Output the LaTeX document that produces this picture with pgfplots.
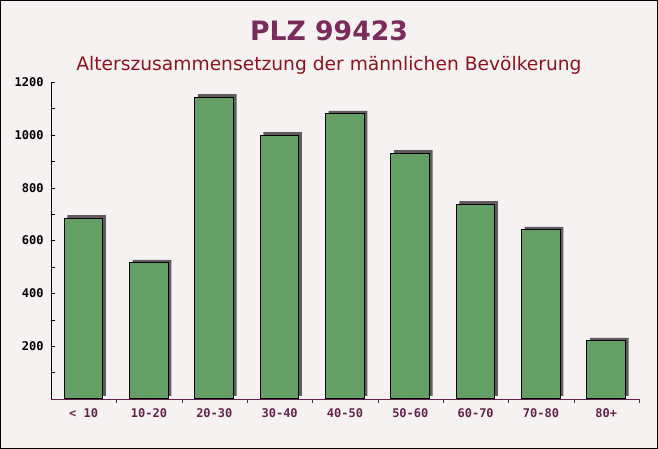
\documentclass[border=0pt]{standalone}
\usepackage{fontspec}
\usepackage{pgfplots}
\pgfplotsset{compat=1.18}
\setmainfont{DejaVu Sans}
\newfontfamily\monof{DejaVu Sans Mono}
\definecolor{titlecol}{RGB}{122,44,91}
\definecolor{subcol}{RGB}{140,20,30}
\definecolor{xlab}{RGB}{100,35,75}
\definecolor{barcol}{RGB}{100,160,102}
\definecolor{shadowcol}{RGB}{95,92,95}
\definecolor{bgcol}{RGB}{246,242,242}
\begin{document}
\begin{tikzpicture}
\useasboundingbox (0,0) rectangle (493.5pt,336.75pt);
\fill[bgcol] (0,0) rectangle (493.5pt,336.75pt);
\node[anchor=base, text=titlecol, font=\bfseries\fontsize{20}{24}\selectfont] at (246.75pt,306pt) {PLZ 99423};
\node[anchor=base, text=subcol, font=\fontsize{14}{17}\selectfont] at (246.75pt,283.5pt) {Alterszusammensetzung der männlichen Bevölkerung};
\begin{axis}[
  at={(38.25pt,37.5pt)}, anchor=south west,
  scale only axis, width=441pt, height=237.75pt,
  xmin=-0.5, xmax=8.5, ymin=0, ymax=1200,
  axis x line=bottom, axis y line=left,
  x axis line style={draw=xlab,-},
  y axis line style={draw=black,-},
  xtick={0,...,8},
  xticklabels={< 10,10-20,20-30,30-40,40-50,50-60,60-70,70-80,80+},
  minor xtick={0.5,1.5,...,8.5},
  ytick={200,400,...,1200},
  minor ytick={100,300,...,1100},
  tick align=inside,
  major tick length=3pt, minor tick length=3pt,
  major x tick style={draw=none},
  minor x tick style={draw=xlab},
  y tick style={draw=black},
  tick label style={font=\monof\bfseries\fontsize{9}{10}\selectfont},
  x tick label style={text=xlab, yshift=-1pt},
  y tick label style={text=black, xshift=-2pt},
  /pgf/number format/assume math mode=true,
  /pgf/number format/1000 sep={},
  ybar, bar width=29pt,
  clip=false,
]
\addplot[fill=shadowcol, draw=none, xshift=2.25pt, yshift=2.25pt, bar shift=0pt] coordinates {
 (0,685) (1,515) (2,1143) (3,999) (4,1079) (5,931) (6,738) (7,640) (8,220)};
\addplot[fill=barcol, draw=black, line width=0.75pt, bar shift=0pt] coordinates {
 (0,685) (1,515) (2,1143) (3,999) (4,1079) (5,931) (6,738) (7,640) (8,220)};
\end{axis}
\draw[black, line width=0.75pt] (0.375pt,0.375pt) rectangle (493.125pt,336.375pt);
\end{tikzpicture}
\end{document}
